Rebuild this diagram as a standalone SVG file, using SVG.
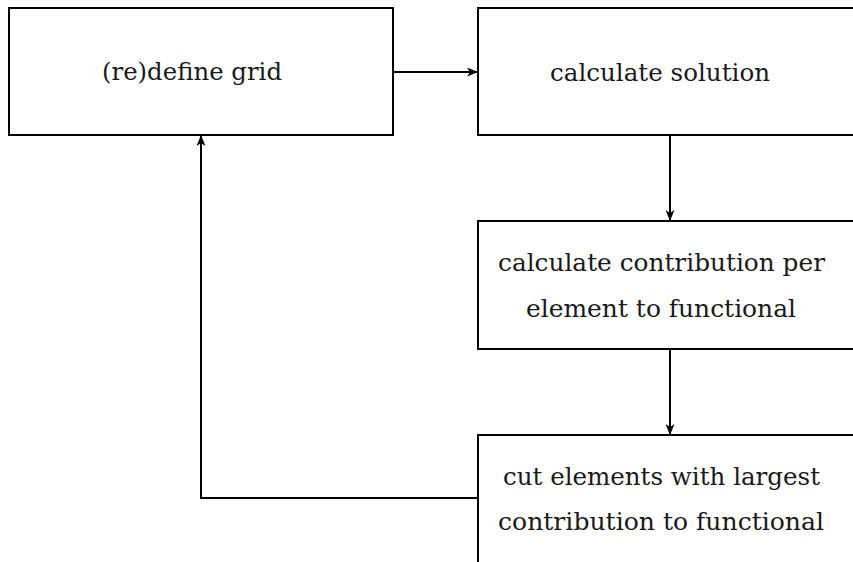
<svg xmlns="http://www.w3.org/2000/svg" width="853" height="562" viewBox="0 0 853 562">
<style>
.box{fill:#fff;stroke:#000;stroke-width:2}
.t{font-family:"DejaVu Serif","Liberation Serif",serif;font-size:25px;fill:#1a1a1a;text-anchor:middle}
.c{fill:none;stroke:#000;stroke-width:2}
</style>
<defs>
<marker id="ah" markerWidth="11" markerHeight="9" refX="10" refY="4.5" orient="auto" markerUnits="userSpaceOnUse">
<path d="M0,0 L11,4.5 L0,9 L3,4.5 Z" fill="#000"/>
</marker>
</defs>
<rect width="853" height="562" fill="#fff"/>
<g id="n1"><rect class="box" x="9" y="8" width="384" height="127"/><text class="t" x="192" y="80" textLength="180" lengthAdjust="spacingAndGlyphs">(re)define grid</text></g>
<g id="n2"><rect class="box" x="478" y="8" width="384" height="127"/><text class="t" x="660" y="81" textLength="220" lengthAdjust="spacingAndGlyphs">calculate solution</text></g>
<g id="n3"><rect class="box" x="478" y="221" width="384" height="128"/><text class="t" x="661.5" y="271" textLength="327" lengthAdjust="spacingAndGlyphs">calculate contribution per</text><text class="t" x="661" y="317" textLength="270" lengthAdjust="spacingAndGlyphs">element to functional</text></g>
<g id="n4"><rect class="box" x="478" y="435" width="384" height="140"/><text class="t" x="661.5" y="485" textLength="317" lengthAdjust="spacingAndGlyphs">cut elements with largest</text><text class="t" x="661" y="530" textLength="326" lengthAdjust="spacingAndGlyphs">contribution to functional</text></g>
<g id="connectors">
<path class="c" d="M393,72 H477" marker-end="url(#ah)"/>
<path class="c" d="M670,135 V220" marker-end="url(#ah)"/>
<path class="c" d="M670,349 V434" marker-end="url(#ah)"/>
<path class="c" d="M478,498 H201 V136" marker-end="url(#ah)"/>
</g>
</svg>
